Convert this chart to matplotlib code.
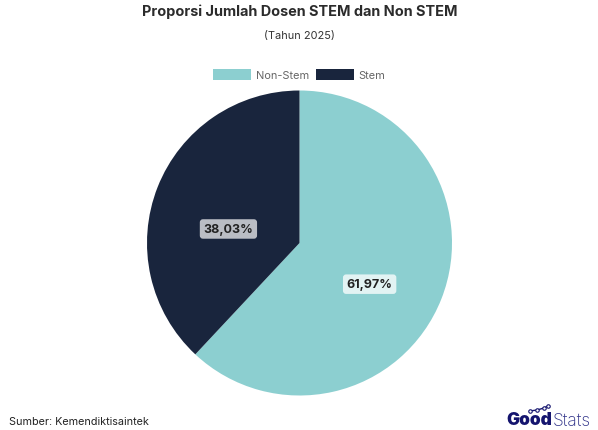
import matplotlib
matplotlib.use("Agg")
import matplotlib.pyplot as plt
from matplotlib.patches import Patch

categories = ["Non-Stem", "Stem"]
values = [61.97, 38.03]
value_labels = ["61,97%", "38,03%"]
colors = ["#8ccfd0", "#19253d"]

plt.rcParams["font.family"] = ["Inter", "DejaVu Sans"]

W, H = 598, 431
fig = plt.figure(figsize=(W / 100, H / 100), dpi=100)

# ----------------- Pie ------------------- #

cx, cy, radius = 299.5, 244, 152.5
ax = fig.add_axes([(cx - radius) / W, (H - cy - radius) / H, 2 * radius / W, 2 * radius / H])
ax.pie(values, colors=colors, startangle=90, counterclock=False, radius=1)
ax.set_xlim(-1, 1)
ax.set_ylim(-1, 1)

# the labels do not sit on the slice middle in the original
label_pos = [(0.46, -0.27), (-0.466, 0.092)]
label_bg = ["#e2f3f3", "#babdc4"]
for txt, pos, bg in zip(value_labels, label_pos, label_bg):
    ax.text(pos[0], pos[1], txt, ha="center", va="center", fontsize=9,
            fontweight="bold", color="#222222",
            bbox=dict(boxstyle="round,pad=0.3,rounding_size=0.25", fc=bg, ec="none"))

# ---------- Titles / legend ------------- #

fig.text(299.5 / W, 1 - 12 / H, "Proporsi Jumlah Dosen STEM dan Non STEM", ha="center",
         va="center", fontsize=10.4, fontweight="bold", color="#2b2b2b")
fig.text(299.5 / W, 1 - 35.5 / H, "(Tahun 2025)", ha="center", va="center",
         fontsize=7.9, color="#333333")

handles = [Patch(facecolor=c, edgecolor="none") for c in colors]
fig.legend(handles, categories, loc="center", bbox_to_anchor=(299.5 / W, 1 - 75.5 / H),
           ncol=2, frameon=False, fontsize=7.9, labelcolor="#666666",
           handlelength=3.45, handleheight=1.2, handletextpad=0.45, columnspacing=0.6)

# ---------- Footer ------------- #

fig.text(9 / W, 1 - 422 / H, "Sumber: Kemendiktisaintek", ha="left", va="center",
         fontsize=7.8, color="#222222")

navy = "#14146e"
fig.text(506 / W, 1 - 421 / H, "Good", ha="left", va="center", fontsize=12.5,
         fontweight="black", color=navy)
fig.text(553 / W, 1 - 421 / H, "Stats", ha="left", va="center", fontsize=12.5,
         fontweight="light", color="#2e3188")

# logo sparkline over the wordmark
logo = fig.add_axes([0, 0, 1, 1], facecolor="none")
logo.set_xlim(0, W)
logo.set_ylim(H, 0)
logo.axis("off")
logo.plot([530, 537, 544, 548], [412, 411, 409, 407], color=navy, lw=1,
          marker="o", ms=2.5, mfc="white", mec=navy, mew=0.8)

plt.savefig("out.png", dpi=100)
